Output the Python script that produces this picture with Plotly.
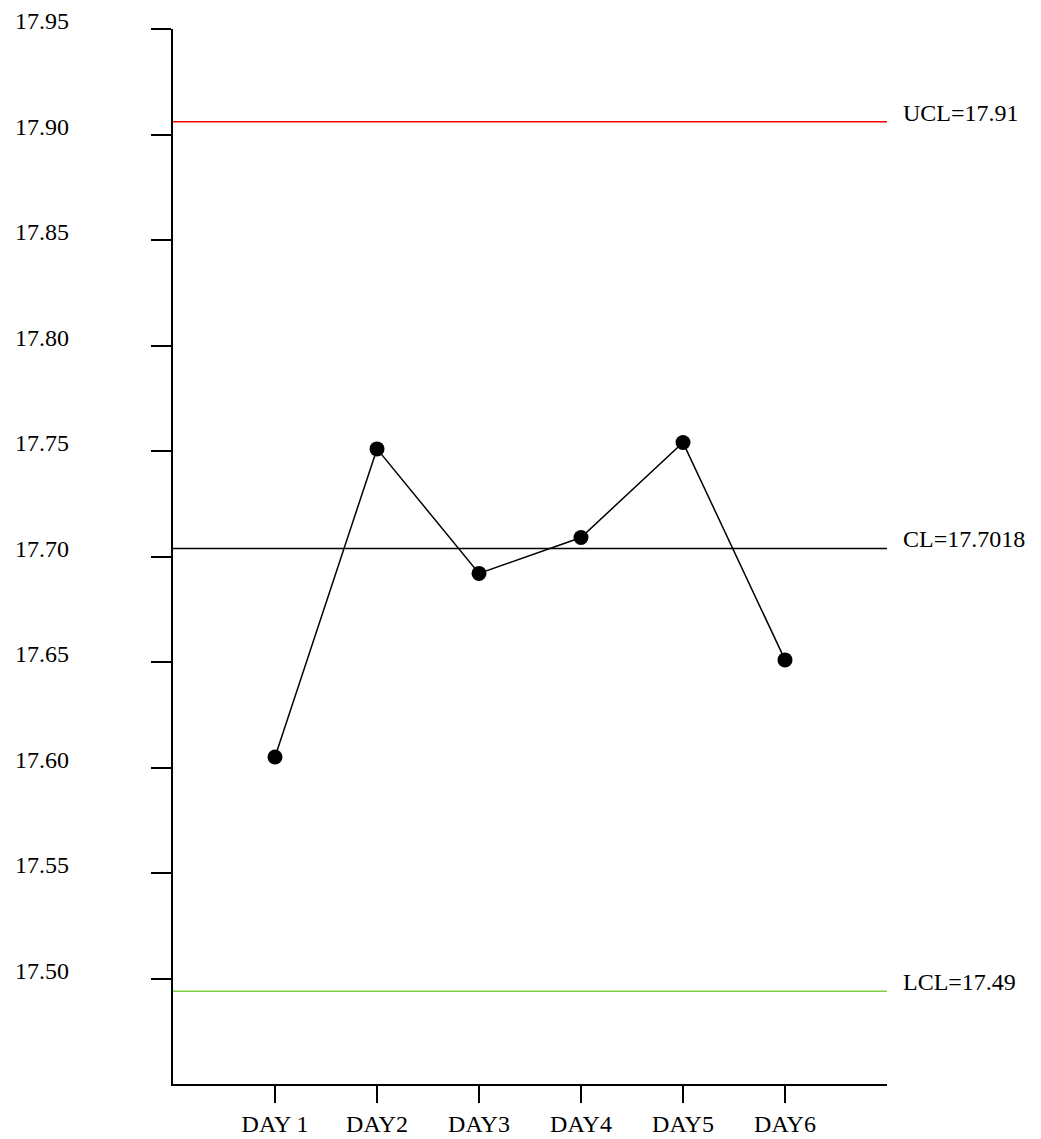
import plotly.graph_objects as go

# Daily sample means
days = ["DAY 1", "DAY2", "DAY3", "DAY4", "DAY5", "DAY6"]
means = [17.605, 17.751, 17.692, 17.709, 17.754, 17.651]

# Control limits
ucl = 17.906
cl = 17.7038
lcl = 17.494
limit_labels = ["UCL=17.91", "CL=17.7018", "LCL=17.49"]
limit_values = [ucl, cl, lcl]
limit_colors = ["#ff0000", "#000000", "#7dcf3f"]

# Y axis tick values and labels
y_ticks = [17.50, 17.55, 17.60, 17.65, 17.70, 17.75, 17.80, 17.85, 17.90, 17.95]
y_tick_text = [f"{v:.2f}" for v in y_ticks]

FONT = "Liberation Serif, Times New Roman, serif"
FS = 24

fig = go.Figure()

fig.add_trace(go.Scatter(
    x=days, y=means,
    mode="lines+markers",
    line=dict(color="black", width=1.5),
    marker=dict(color="black", size=15, symbol="circle"),
    showlegend=False,
    hoverinfo="skip",
))

# Control lines spanning the plot width, labelled on the right
for label, val, col in zip(limit_labels, limit_values, limit_colors):
    fig.add_shape(type="line", xref="paper", x0=0, x1=1, yref="y", y0=val, y1=val,
                  line=dict(color=col, width=1.5))
    fig.add_annotation(xref="paper", x=1.0, xanchor="left", xshift=14,
                       yref="y", y=val, yanchor="middle", yshift=9,
                       text=label, showarrow=False,
                       font=dict(family=FONT, size=FS, color="black"))

# Y tick labels sit a little above their tick marks
for val, txt in zip(y_ticks, y_tick_text):
    fig.add_annotation(xref="paper", x=0, xanchor="right", xshift=-102,
                       yref="y", y=val, yanchor="middle", yshift=8,
                       text=txt, showarrow=False,
                       font=dict(family=FONT, size=FS, color="black"))

fig.update_layout(
    width=1041, height=1139,
    margin=dict(l=173, r=154, t=29, b=55, autoexpand=False),
    plot_bgcolor="white", paper_bgcolor="white",
    font=dict(family=FONT, size=FS, color="black"),
    xaxis=dict(
        type="category", range=[-1, 6], automargin=False,
        showline=True, linecolor="black", linewidth=1.5,
        ticks="outside", ticklen=17, tickwidth=1.5, tickcolor="black",
        ticklabelstandoff=0,
        showgrid=False, zeroline=False,
        tickfont=dict(family=FONT, size=FS, color="black"),
    ),
    yaxis=dict(
        range=[17.45, 17.95], automargin=False,
        tickvals=y_ticks, showticklabels=False,
        showline=True, linecolor="black", linewidth=1.5,
        ticks="outside", ticklen=20, tickwidth=1.5, tickcolor="black",
        showgrid=False, zeroline=False,
    ),
)

fig.write_html("out.html")
